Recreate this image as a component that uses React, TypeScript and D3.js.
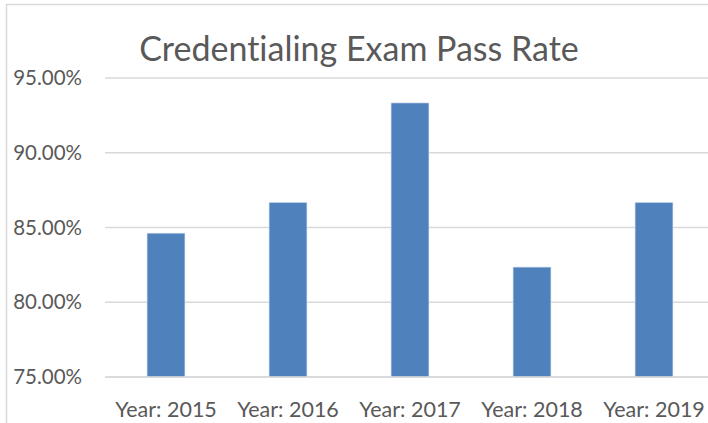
// Bar chart: exam pass rate by year, Excel-style with a clipped chart border.
import React from 'react';
import * as d3 from 'd3';

const years = ['Year: 2015', 'Year: 2016', 'Year: 2017', 'Year: 2018', 'Year: 2019'];
const passRates = [84.62, 86.67, 93.33, 82.35, 86.67];
const yTicks = [75, 80, 85, 90, 95];

const W = 708;
const H = 423;
const PLOT_LEFT = 105;
const PLOT_RIGHT = 715;
const PLOT_TOP = 78;
const PLOT_BOTTOM = 377;

const TEXT = '#595959';
const GRID = '#d9d9d9';
const BAR = '#4f81bd';
const FONT = 'Lato, "Open Sans", sans-serif';

export default function App() {
  const x = d3.scaleBand<string>().domain(years).range([PLOT_LEFT, PLOT_RIGHT]).paddingInner(0.69).paddingOuter(0.345);
  const y = d3.scaleLinear().domain([75, 95]).range([PLOT_BOTTOM, PLOT_TOP]);
  const fmt = (v: number) => `${v.toFixed(2)}%`;

  return (
    <svg
      width={W}
      height={H}
      style={{ position: 'absolute', left: 0, top: 0, background: '#fff', fontVariantLigatures: 'none' }}
      fontFamily={FONT}
    >
      <rect x={0} y={0} width={W} height={H} fill="#fff" />
      {/* chart area border, cut off at right and bottom */}
      <rect x={6.5} y={4.5} width={W + 20} height={H + 20} fill="none" stroke={GRID} strokeWidth={1.5} />

      <text x={359} y={61} textAnchor="middle" fontSize={34} fill={TEXT}>
        Credentialing Exam Pass Rate
      </text>

      {yTicks.map((t) => (
        <g key={t}>
          <line x1={PLOT_LEFT} x2={PLOT_RIGHT} y1={y(t)} y2={y(t)} stroke={GRID} strokeWidth={1.5} />
          <text x={82} y={y(t) + 7} textAnchor="end" fontSize={20.5} fill={TEXT}>
            {fmt(t)}
          </text>
        </g>
      ))}

      {years.map((c, i) => (
        <rect
          key={c}
          x={x(c)}
          y={y(passRates[i])}
          width={x.bandwidth()}
          height={y(75) - y(passRates[i])}
          fill={BAR}
          stroke="#c9d6ea"
          strokeWidth={0.6}
        />
      ))}
      <line x1={PLOT_LEFT} x2={PLOT_RIGHT} y1={y(75)} y2={y(75)} stroke={GRID} strokeWidth={1.5} />

      {years.map((c) => (
        <text key={c} x={(x(c) ?? 0) + x.bandwidth() / 2} y={417} textAnchor="middle" fontSize={21.5} fill={TEXT}>
          {c}
        </text>
      ))}
    </svg>
  );
}
